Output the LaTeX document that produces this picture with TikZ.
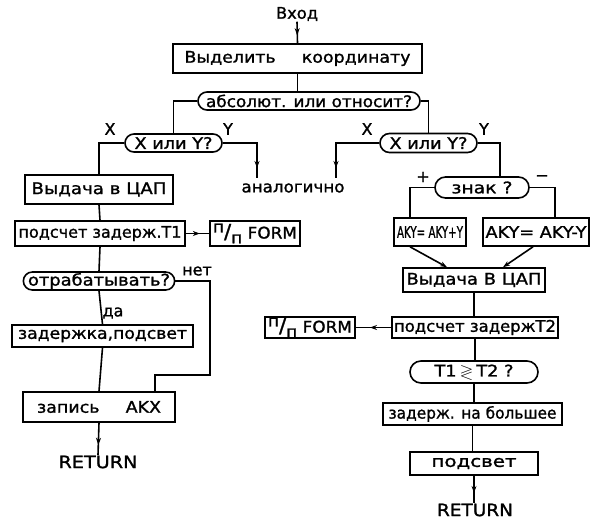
\documentclass[tikz,border=0pt]{standalone}
\usepackage{fontspec}
\setmainfont{DejaVu Sans}[FakeBold=1.2]
\usepackage{amssymb}
\usetikzlibrary{arrows.meta,decorations.markings,shapes.misc}
\newcommand\fitw[2]{\resizebox{#1pt}{\height}{#2}}
\newcommand\ppsym{\raisebox{0.38em}{п}{\fontsize{20}{20}\selectfont/}\raisebox{-0.3em}{п}}
\begin{document}
\begin{tikzpicture}[x=1pt,y=-1pt, line width=1.6pt,
  every node/.style={font=\fontsize{16}{18}\selectfont, inner sep=0pt},
  box/.style={draw, rectangle},
  term/.style={draw, rounded rectangle},
  sz/.style 2 args={minimum width=#1pt, minimum height=#2pt},
  marr/.style={postaction={decorate}, decoration={markings, mark=at position #1 with {\arrow{Stealth[length=7pt,width=5pt]}}}},
  endarr/.style={-{Stealth[length=7pt,width=5pt]}},
  big/.style={font=\fontsize{17}{19}\selectfont}]
\fill[white] (0,0) rectangle (591,525);
\useasboundingbox (0,0) rectangle (591,525);

% left / top part
\node (entry) at (297,14) {\fitw{42}{Вход}};
\node[box, sz={249}{29}] (sel) at (297.5,58.5) {\fitw{226}{Выделить\hspace{1.5em}координату}};
\node[term, sz={222}{18}] (abs) at (309,101) {\fitw{206}{абсолют. или относит?}};
\node[term, sz={97}{18}] (xyL) at (173.5,143) {\fitw{78}{X или Y?}};
\node[term, sz={97}{19}] (xyR) at (428.5,143) {\fitw{78}{X или Y?}};
\node[box, sz={148}{29}] (dacL) at (99,189.5) {\fitw{135}{Выдача в ЦАП}};
\node (analog) at (293,188) {\fitw{103}{аналогично}};
\node[box, sz={170}{25}] (t1) at (100,233.5) {\fitw{163}{подсчет задерж.T1}};
\node[box, sz={90}{25}] (formL) at (255,233.5) {\fitw{84}{\ppsym\ FORM}};
\node[term, sz={148}{18}] (otr) at (99,281) {\fitw{142}{отрабатывать?}};
\node[box, sz={181}{22}] (zad) at (102.5,336) {\fitw{169}{задержка,подсвет}};
\node[box, sz={152}{30}] (akx) at (99,407) {\fitw{124}{запись\hspace{1.5em}AKX}};
\node[big] (retL) at (98,462) {\fitw{79}{RETURN}};

% right part
\node[term, sz={94}{21}] (znak) at (482,187.5) {\fitw{61}{знак ?}};
\node[box, sz={72}{28}] (akyP) at (430,232) {\fitw{66}{AKY= AKY+Y}};
\node[box, sz={106}{28}] (akyM) at (536,232) {\fitw{101}{AKY= AKY-Y}};
\node[box, sz={142}{24}] (dacR) at (474,280) {\fitw{135}{Выдача В ЦАП}};
\node[box, sz={166}{21}] (t2) at (475,327.5) {\fitw{162}{подсчет задержT2}};
\node[box, sz={90}{21}] (formR) at (310,327.5) {\fitw{84}{\ppsym\ FORM}};
\node[term, sz={128}{22}] (cmp) at (474,372) {\fitw{79}{T1\,$\gtrless$\,T2 ?}};
\node[box, sz={179}{22}] (bigger) at (472.5,414) {\fitw{168}{задерж. на большее}};
\node[box, sz={128}{23}] (podsv) at (474,463.5) {\fitw{85}{подсвет}};
\node[big] (retR) at (475,510) {\fitw{76}{RETURN}};

% labels
\node (lxL) at (110,129) {X};
\node (lyL) at (228,129) {Y};
\node (lxR) at (367,129) {X};
\node (lyR) at (484,129) {Y};
\node (lplus) at (423,177) {+};
\node (lminus) at (542,178) {−};
\node (lnet) at (197,271) {нет};
\node (lda) at (113,313) {да};

\coordinate (aL) at (257,178);
\coordinate (aR) at (336,178);
\coordinate (loopA) at (210,375);

% connectors
\draw[marr=-8pt] (entry.south) -- (sel.north);
\draw (sel.south) -- (sel.south |- abs.north);
\draw (abs.west) -| (xyL.north);
\draw (abs.east) -| (xyR.north);
\draw (xyL.west) -| (dacL.north);
\draw[marr=-10pt] (xyL.east) -| (aL);
\draw[marr=-10pt] (xyR.west) -| (aR);
\draw (dacL.south) -- (t1.north);
\draw[marr=0.6] (t1.east) -- (formL.west);
\draw (t1.south) -- (otr.north);
\draw (otr.south) -- (zad.north);
\draw (zad.south) -- (akx.north);
\draw (otr.east) -| (loopA) -| ([xshift=56pt]akx.north);
\draw[marr=-10pt] (akx.south) -- (retL.north);

\draw (xyR.east) -| ([xshift=18pt]znak.north);
\draw (znak.west) -| ([xshift=-20pt]akyP.north);
\draw (znak.east) -| ([xshift=19pt]akyM.north);
\draw[endarr] ([xshift=-20pt]akyP.south) -- ([xshift=-27pt]dacR.north);
\draw[endarr] ([xshift=-3pt]akyM.south) -- ([xshift=29pt]dacR.north);
\draw (dacR.south) -- (dacR.south |- t2.north);
\draw[marr=0.6] (t2.west) -- (formR.east);
\draw (t2.south) -- (t2.south |- cmp.north);
\draw (cmp.south) -- (cmp.south |- bigger.north);
\draw (bigger.south) -- (bigger.south |- podsv.north);
\draw[marr=-10pt] (podsv.south) -- (podsv.south |- retR.north);
\end{tikzpicture}
\end{document}
